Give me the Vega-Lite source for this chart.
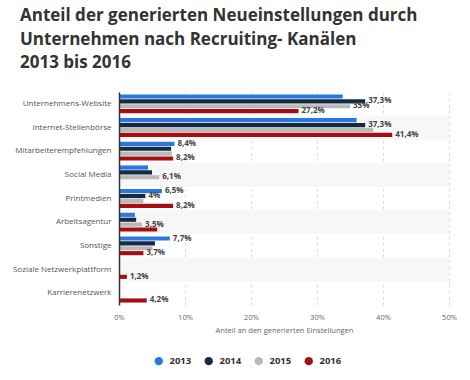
{
  "$schema": "https://vega.github.io/schema/vega-lite/v6.json",
  "autosize": "none",
  "width": 330,
  "height": 213,
  "padding": {"left": 119, "top": 92, "right": 21, "bottom": 75},
  "background": "white",
  "title": {
    "text": ["Anteil der generierten Neueinstellungen durch", "Unternehmen nach Recruiting- Kanälen", "2013 bis 2016"],
    "anchor": "start",
    "frame": "group",
    "dx": -99,
    "offset": 20,
    "font": "Open Sans",
    "fontSize": 17,
    "fontWeight": "bold",
    "color": "#333333",
    "lineHeight": 23.5
  },
  "config": {
    "view": {"stroke": null},
    "font": "Open Sans"
  },
  "data": {
    "values": [
      {"cat": "Unternehmens-Website", "year": "2013", "value": 33.9, "label": ""},
      {"cat": "Unternehmens-Website", "year": "2014", "value": 37.3, "label": "37,3%"},
      {"cat": "Unternehmens-Website", "year": "2015", "value": 35.0, "label": "35%"},
      {"cat": "Unternehmens-Website", "year": "2016", "value": 27.2, "label": "27,2%"},
      {"cat": "Internet-Stellenbörse", "year": "2013", "value": 36.0, "label": ""},
      {"cat": "Internet-Stellenbörse", "year": "2014", "value": 37.3, "label": "37,3%"},
      {"cat": "Internet-Stellenbörse", "year": "2015", "value": 38.5, "label": ""},
      {"cat": "Internet-Stellenbörse", "year": "2016", "value": 41.4, "label": "41,4%"},
      {"cat": "Mitarbeiterempfehlungen", "year": "2013", "value": 8.4, "label": "8,4%"},
      {"cat": "Mitarbeiterempfehlungen", "year": "2014", "value": 7.9, "label": ""},
      {"cat": "Mitarbeiterempfehlungen", "year": "2015", "value": 8.0, "label": ""},
      {"cat": "Mitarbeiterempfehlungen", "year": "2016", "value": 8.2, "label": "8,2%"},
      {"cat": "Social Media", "year": "2013", "value": 4.4, "label": ""},
      {"cat": "Social Media", "year": "2014", "value": 5.0, "label": ""},
      {"cat": "Social Media", "year": "2015", "value": 6.1, "label": "6,1%"},
      {"cat": "Printmedien", "year": "2013", "value": 6.5, "label": "6,5%"},
      {"cat": "Printmedien", "year": "2014", "value": 4.0, "label": "4%"},
      {"cat": "Printmedien", "year": "2015", "value": 3.7, "label": ""},
      {"cat": "Printmedien", "year": "2016", "value": 8.2, "label": "8,2%"},
      {"cat": "Arbeitsagentur", "year": "2013", "value": 2.4, "label": ""},
      {"cat": "Arbeitsagentur", "year": "2014", "value": 2.6, "label": ""},
      {"cat": "Arbeitsagentur", "year": "2015", "value": 3.5, "label": "3,5%"},
      {"cat": "Arbeitsagentur", "year": "2016", "value": 5.8, "label": ""},
      {"cat": "Sonstige", "year": "2013", "value": 7.7, "label": "7,7%"},
      {"cat": "Sonstige", "year": "2014", "value": 5.45, "label": ""},
      {"cat": "Sonstige", "year": "2015", "value": 5.1, "label": ""},
      {"cat": "Sonstige", "year": "2016", "value": 3.7, "label": "3,7%"},
      {"cat": "Soziale Netzwerkplattform", "year": "2016", "value": 1.2, "label": "1,2%"},
      {"cat": "Karrierenetzwerk", "year": "2016", "value": 4.2, "label": "4,2%"}
    ]
  },
  "encoding": {
    "y": {
      "field": "cat",
      "type": "nominal",
      "sort": ["Unternehmens-Website", "Internet-Stellenbörse", "Mitarbeiterempfehlungen", "Social Media", "Printmedien", "Arbeitsagentur", "Sonstige", "Soziale Netzwerkplattform", "Karrierenetzwerk"],
      "scale": {"paddingInner": 0, "paddingOuter": 0},
      "axis": {
        "title": null,
        "ticks": false,
        "domain": true,
        "domainColor": "#333333",
        "domainWidth": 1.5,
        "labelFontSize": 8,
        "labelColor": "#555555",
        "labelPadding": 8,
        "labelFont": "Open Sans"
      }
    }
  },
  "layer": [
    {
      "transform": [{"filter": {"field": "cat", "oneOf": ["Internet-Stellenbörse", "Social Media", "Arbeitsagentur", "Soziale Netzwerkplattform"]}}],
      "mark": {"type": "rect", "color": "#f7f7f7"},
      "encoding": {
        "x": {"datum": 0, "type": "quantitative"},
        "x2": {"datum": 50}
      }
    },
    {
      "mark": {"type": "bar"},
      "encoding": {
        "x": {
          "field": "value",
          "type": "quantitative",
          "scale": {"domain": [0, 50], "nice": false},
          "axis": {
            "title": "Anteil an den generierten Einstellungen",
            "titleFontSize": 7.5,
            "titleFontWeight": "normal",
            "titleColor": "#666666",
            "titlePadding": 6,
            "values": [0, 5, 10, 15, 20, 25, 30, 35, 40, 45, 50],
            "labelExpr": "datum.value + '%'",
            "labelFontSize": 7.5,
            "labelColor": "#666666",
            "labelPadding": 8,
            "ticks": false,
            "domain": false,
            "grid": true,
            "gridColor": "#dddddd",
            "gridDash": [3, 3],
            "labelFlush": false
          }
        },
        "yOffset": {"field": "year", "type": "nominal", "scale": {"paddingInner": 0.15, "paddingOuter": 0.5}},
        "color": {
          "field": "year",
          "type": "nominal",
          "scale": {"domain": ["2013", "2014", "2015", "2016"], "range": ["#2a78dd", "#152b44", "#b9b9b9", "#a50f13"]},
          "legend": {
            "title": null,
            "orient": "none",
            "legendX": 35,
            "legendY": 264,
            "direction": "horizontal",
            "symbolType": "circle",
            "symbolSize": 70,
            "symbolStrokeWidth": 0,
            "labelFontSize": 9.5,
            "labelFontWeight": "bold",
            "labelColor": "#333333",
            "columnPadding": 12,
            "labelOffset": 6
          }
        }
      }
    },
    {
      "mark": {"type": "text", "align": "left", "baseline": "middle", "dx": 3, "fontSize": 8, "fontWeight": "bold", "color": "#444444"},
      "encoding": {
        "x": {"field": "value", "type": "quantitative"},
        "yOffset": {"field": "year", "type": "nominal"},
        "text": {"field": "label"}
      }
    }
  ]
}
